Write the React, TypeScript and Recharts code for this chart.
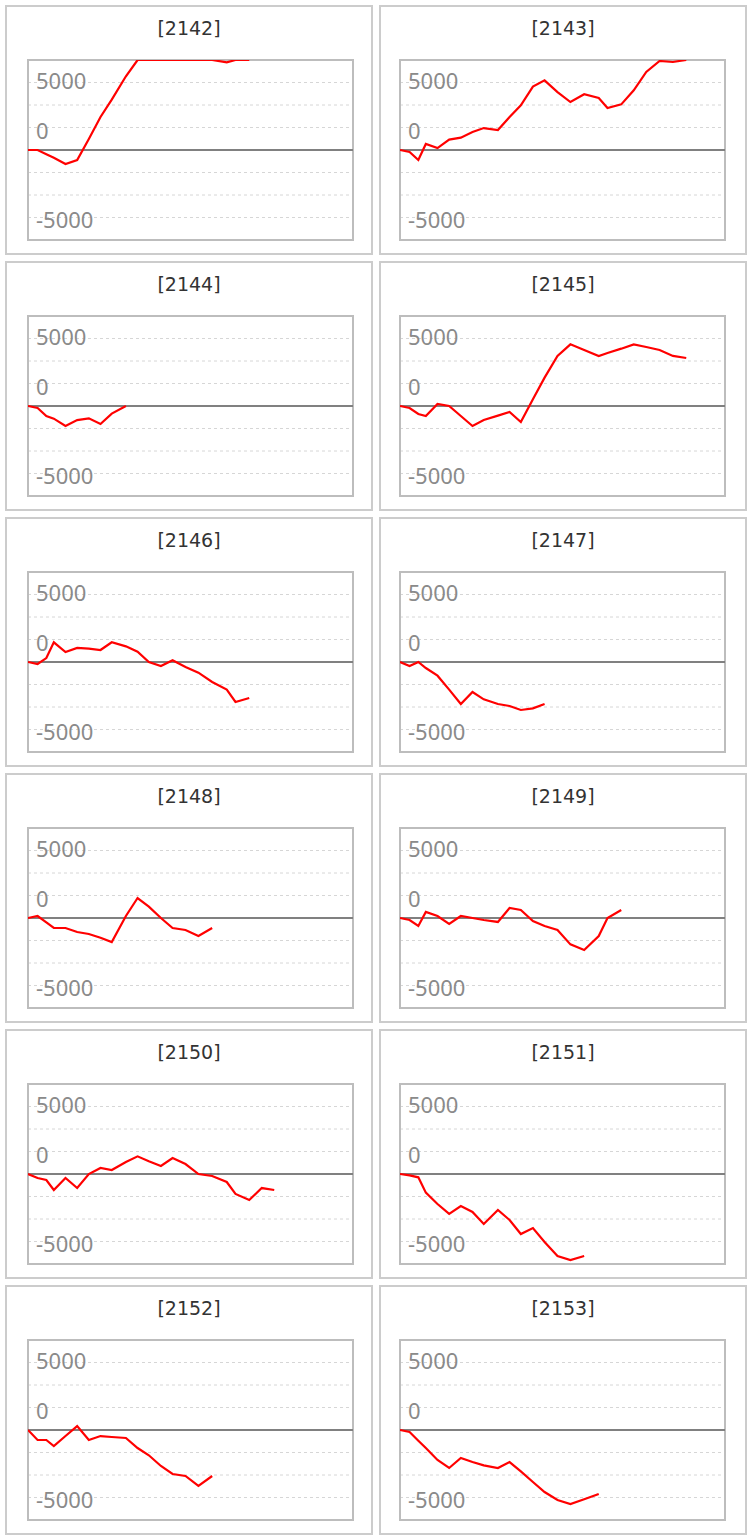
import React from 'react';
import { LineChart, Line, XAxis, YAxis, CartesianGrid, ReferenceLine, ReferenceArea } from 'recharts';

// shared sampling times (elapsed minutes) for every machine
const TIMES = [0, 23, 44, 62, 90, 118, 146, 174, 201, 235, 263, 290, 319, 347, 378, 409, 442, 477, 498, 531, 561, 591, 623, 655, 687];

// coin difference series per machine
const M2142 = [0, 0, -460, -870, -1560, -1110, 1220, 3670, 5590, 8190, 10000, 10000, 10000, 10000, 10000, 10000, 10000, 9740, 10000, 10000];
const M2143 = [0, -220, -1110, 670, 220, 1150, 1370, 2000, 2440, 2220, 3670, 4960, 7040, 7740, 6440, 5330, 6190, 5780, 4670, 5070, 6630, 8670, 9890, 9780, 10000];
const M2144 = [0, -220, -1110, -1410, -2220, -1560, -1370, -2000, -850, 0];
const M2145 = [0, -220, -890, -1110, 220, 0, -1110, -2220, -1560, -1070, -670, -1780, 760, 3150, 5560, 6850, 6220, 5560, 5890, 6370, 6850, 6560, 6220, 5560, 5330];
const M2146 = [0, -220, 440, 2190, 1110, 1560, 1480, 1330, 2190, 1740, 1150, 0, -440, 190, -560, -1190, -2220, -3070, -4440, -4000];
const M2147 = [0, -440, 0, -670, -1520, -3070, -4670, -3330, -4150, -4670, -4890, -5330, -5150, -4670];
const M2148 = [0, 220, -480, -1110, -1110, -1560, -1780, -2190, -2670, 220, 2220, 1260, 0, -1110, -1330, -2000, -1110];
const M2149 = [0, -220, -890, 670, 220, -670, 220, 0, -220, -440, 1110, 890, -330, -890, -1330, -2930, -3560, -2000, 0, 890];
const M2150 = [0, -440, -670, -1780, -440, -1560, 0, 670, 440, 1330, 1960, 1410, 890, 1780, 1110, 0, -220, -890, -2220, -2890, -1560, -1780];
const M2151 = [0, -150, -370, -2070, -3330, -4440, -3560, -4220, -5560, -4000, -5110, -6670, -6000, -7560, -9110, -9560, -9110];
const M2152 = [0, -1110, -1110, -1780, -670, 440, -1110, -670, -780, -890, -2000, -2810, -4000, -4890, -5110, -6220, -5110];
const M2153 = [0, -220, -1190, -2000, -3330, -4220, -3110, -3560, -3930, -4220, -3560, -4590, -5780, -6890, -7780, -8220, -7700, -7110];

const MACHINES = ['2142', '2143', '2144', '2145', '2146', '2147', '2148', '2149', '2150', '2151', '2152', '2153'];
const SERIES = [M2142, M2143, M2144, M2145, M2146, M2147, M2148, M2149, M2150, M2151, M2152, M2153];

const Y_DOMAIN = [-10000, 10000];
const X_DOMAIN = [0, 780];
const GRID_TICKS = [-7500, -5000, -2500, 0, 2500, 5000, 7500];
const LABEL_TICKS = [5000, 0, -5000];
const LABEL_SHIFT: Record<number, number> = { 5000: -25, 0: -20.5, [-5000]: 24 };

const PANEL_W = 368;
const PANEL_H = 250;

const makeTick = (labelX: number) => (props: any) => {
  const { y, payload } = props;
  const v = Number(payload && payload.value);
  if (!LABEL_TICKS.includes(v)) return <g />;
  return (
    <text
      x={labelX}
      y={y + LABEL_SHIFT[v]}
      textAnchor="start"
      dominantBaseline="central"
      fill="#8a8a8a"
      fontSize={22}
      fontFamily="'Noto Sans', sans-serif"
    >
      {String(v)}
    </text>
  );
};

const Panel = ({ idx }: { idx: number }) => {
  const col = idx % 2;
  const row = Math.floor(idx / 2);
  const left = col === 0 ? 5 : 379;
  const top = 5 + row * 256;
  const values = SERIES[idx];
  const data = values.map((v, i) => ({ t: TIMES[i], v }));
  const mLeft = col === 0 ? 23 : 21;
  return (
    <div style={{ position: 'absolute', left, top, width: PANEL_W, height: PANEL_H }}>
      <div
        style={{
          position: 'absolute',
          inset: 0,
          border: '2px solid #cccccc',
          boxSizing: 'border-box',
          background: '#fff',
        }}
      />
      <div
        style={{
          position: 'absolute',
          left: 0,
          top: 13,
          width: PANEL_W,
          textAlign: 'center',
          fontFamily: "'DejaVu Sans', sans-serif",
          fontSize: 19,
          lineHeight: '20px',
          color: '#333',
        }}
      >
        [{MACHINES[idx]}]
      </div>
      <div style={{ position: 'absolute', left: 0, top: 0 }}>
        <LineChart
          width={PANEL_W}
          height={PANEL_H}
          data={data}
          margin={{ left: mLeft - 1, right: col === 0 ? 20 : 22, top: 55, bottom: 15 }}
        >
          <CartesianGrid vertical={false} stroke="#d6d6d6" strokeDasharray="3 3" />
          <XAxis dataKey="t" type="number" domain={X_DOMAIN} hide allowDataOverflow />
          <YAxis
            type="number"
            domain={Y_DOMAIN}
            ticks={GRID_TICKS}
            allowDataOverflow
            width={1}
            axisLine={false}
            tickLine={false}
            tick={makeTick(mLeft + 8)}
            interval={0}
          />
          <ReferenceArea
            x1={X_DOMAIN[0]}
            x2={X_DOMAIN[1]}
            y1={Y_DOMAIN[0]}
            y2={Y_DOMAIN[1]}
            fill="none"
            stroke="#bdbdbd"
            strokeWidth={2}
            fillOpacity={0}
          />
          <ReferenceLine y={0} stroke="#808080" strokeWidth={2} />
          <Line
            type="linear"
            dataKey="v"
            stroke="#ff0000"
            strokeWidth={2.2}
            dot={false}
            isAnimationActive={false}
          />
        </LineChart>
      </div>
    </div>
  );
};

export default function App() {
  return (
    <div style={{ position: 'absolute', left: 0, top: 0, width: 753, height: 1540, background: '#fff' }}>
      {MACHINES.map((m, i) => (
        <Panel key={m} idx={i} />
      ))}
    </div>
  );
}
